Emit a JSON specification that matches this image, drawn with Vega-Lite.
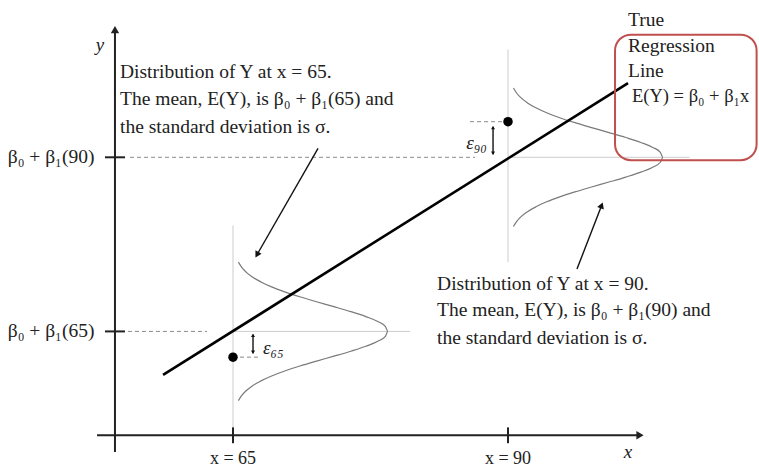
{
  "$schema": "https://vega.github.io/schema/vega-lite/v6.json",
  "width": 759,
  "height": 468,
  "padding": 0,
  "autosize": {"type": "fit", "contains": "padding"},
  "background": "white",
  "config": {"view": {"stroke": null}},
  "datasets": {
    "light": [
      {"x": 65, "y": 21.2, "x2": 65, "y2": 0},
      {"x": 90, "y": 39, "x2": 90, "y2": 17.5},
      {"x": 65, "y": 10.5, "x2": 81.1, "y2": 10.5},
      {"x": 90, "y": 28.1, "x2": 106.5, "y2": 28.1}
    ],
    "dashed": [
      {"x": 55.64, "y": 28.1, "x2": 87.0, "y2": 28.1},
      {"x": 55.45, "y": 10.5, "x2": 62.64, "y2": 10.5},
      {"x": 65, "y": 7.9, "x2": 67.27, "y2": 7.9},
      {"x": 86.55, "y": 31.7, "x2": 90, "y2": 31.7}
    ],
    "axes": [
      {"x": 54.27, "y": -1.7, "x2": 54.27, "y2": 41.0},
      {"x": 52.64, "y": 0, "x2": 102.0, "y2": 0},
      {"x": 65, "y": -0.8, "x2": 65, "y2": 0.8},
      {"x": 90, "y": -0.8, "x2": 90, "y2": 0.8},
      {"x": 53.36, "y": 28.1, "x2": 55.18, "y2": 28.1},
      {"x": 53.36, "y": 10.5, "x2": 55.18, "y2": 10.5}
    ],
    "regline": [{"x": 58.64, "y": 6.1, "x2": 100.91, "y2": 35.6}],
    "thin": [
      {"x": 72.73, "y": 29.0, "x2": 67.18, "y2": 18.25},
      {"x": 96.27, "y": 16.8, "x2": 98.51, "y2": 23.23},
      {"x": 66.82, "y": 10.2, "x2": 66.82, "y2": 8.3},
      {"x": 88.64, "y": 31.2, "x2": 88.64, "y2": 28.4}
    ],
    "headUpBig": [{"x": 54.27, "y": 41.0}],
    "headRight": [{"x": 102.0, "y": 0}],
    "headUpSmall": [{"x": 66.82, "y": 10.1}, {"x": 88.64, "y": 31.1}],
    "headDownSmall": [{"x": 66.82, "y": 8.4}, {"x": 88.64, "y": 28.5}],
    "head1": [{"x": 67.18, "y": 18.25}],
    "head2": [{"x": 98.51, "y": 23.23}],
    "points": [{"x": 65, "y": 7.9}, {"x": 90, "y": 31.7}],
    "curves": [
      {"curve": "A", "i": 0, "x": 65.49, "y": 3.5},
      {"curve": "A", "i": 1, "x": 65.78, "y": 4.0},
      {"curve": "A", "i": 2, "x": 66.19, "y": 4.5},
      {"curve": "A", "i": 3, "x": 66.77, "y": 5.0},
      {"curve": "A", "i": 4, "x": 67.54, "y": 5.5},
      {"curve": "A", "i": 5, "x": 68.51, "y": 6.0},
      {"curve": "A", "i": 6, "x": 69.70, "y": 6.5},
      {"curve": "A", "i": 7, "x": 71.08, "y": 7.0},
      {"curve": "A", "i": 8, "x": 72.60, "y": 7.5},
      {"curve": "A", "i": 9, "x": 74.18, "y": 8.0},
      {"curve": "A", "i": 10, "x": 75.71, "y": 8.5},
      {"curve": "A", "i": 11, "x": 77.08, "y": 9.0},
      {"curve": "A", "i": 12, "x": 78.16, "y": 9.5},
      {"curve": "A", "i": 13, "x": 78.85, "y": 10.0},
      {"curve": "A", "i": 14, "x": 79.09, "y": 10.5},
      {"curve": "A", "i": 15, "x": 78.85, "y": 11.0},
      {"curve": "A", "i": 16, "x": 78.16, "y": 11.5},
      {"curve": "A", "i": 17, "x": 77.08, "y": 12.0},
      {"curve": "A", "i": 18, "x": 75.71, "y": 12.5},
      {"curve": "A", "i": 19, "x": 74.18, "y": 13.0},
      {"curve": "A", "i": 20, "x": 72.60, "y": 13.5},
      {"curve": "A", "i": 21, "x": 71.08, "y": 14.0},
      {"curve": "A", "i": 22, "x": 69.70, "y": 14.5},
      {"curve": "A", "i": 23, "x": 68.51, "y": 15.0},
      {"curve": "A", "i": 24, "x": 67.54, "y": 15.5},
      {"curve": "A", "i": 25, "x": 66.77, "y": 16.0},
      {"curve": "A", "i": 26, "x": 66.19, "y": 16.5},
      {"curve": "A", "i": 27, "x": 65.78, "y": 17.0},
      {"curve": "A", "i": 28, "x": 65.49, "y": 17.5},
      {"curve": "B", "i": 0, "x": 90.49, "y": 21.1},
      {"curve": "B", "i": 1, "x": 90.78, "y": 21.6},
      {"curve": "B", "i": 2, "x": 91.19, "y": 22.1},
      {"curve": "B", "i": 3, "x": 91.77, "y": 22.6},
      {"curve": "B", "i": 4, "x": 92.54, "y": 23.1},
      {"curve": "B", "i": 5, "x": 93.51, "y": 23.6},
      {"curve": "B", "i": 6, "x": 94.70, "y": 24.1},
      {"curve": "B", "i": 7, "x": 96.08, "y": 24.6},
      {"curve": "B", "i": 8, "x": 97.60, "y": 25.1},
      {"curve": "B", "i": 9, "x": 99.18, "y": 25.6},
      {"curve": "B", "i": 10, "x": 100.71, "y": 26.1},
      {"curve": "B", "i": 11, "x": 102.08, "y": 26.6},
      {"curve": "B", "i": 12, "x": 103.16, "y": 27.1},
      {"curve": "B", "i": 13, "x": 103.85, "y": 27.6},
      {"curve": "B", "i": 14, "x": 104.09, "y": 28.1},
      {"curve": "B", "i": 15, "x": 103.85, "y": 28.6},
      {"curve": "B", "i": 16, "x": 103.16, "y": 29.1},
      {"curve": "B", "i": 17, "x": 102.08, "y": 29.6},
      {"curve": "B", "i": 18, "x": 100.71, "y": 30.1},
      {"curve": "B", "i": 19, "x": 99.18, "y": 30.6},
      {"curve": "B", "i": 20, "x": 97.60, "y": 31.1},
      {"curve": "B", "i": 21, "x": 96.08, "y": 31.6},
      {"curve": "B", "i": 22, "x": 94.70, "y": 32.1},
      {"curve": "B", "i": 23, "x": 93.51, "y": 32.6},
      {"curve": "B", "i": 24, "x": 92.54, "y": 33.1},
      {"curve": "B", "i": 25, "x": 91.77, "y": 33.6},
      {"curve": "B", "i": 26, "x": 91.19, "y": 34.1},
      {"curve": "B", "i": 27, "x": 90.78, "y": 34.6},
      {"curve": "B", "i": 28, "x": 90.49, "y": 35.1}
    ],
    "text17": [
      {"x": 54.73, "y": 36.7, "t": "Distribution of Y at x = 65."},
      {"x": 54.73, "y": 34.0, "t": "The mean, E(Y), is β₀ + β₁(65) and"},
      {"x": 54.73, "y": 31.2, "t": "the standard deviation is σ."},
      {"x": 83.55, "y": 15.3, "t": "Distribution of Y at x = 90."},
      {"x": 83.55, "y": 12.7, "t": "The mean, E(Y), is β₀ + β₁(90) and"},
      {"x": 83.55, "y": 9.8, "t": "the standard deviation is σ."},
      {"x": 100.91, "y": 42.0, "t": "True"},
      {"x": 100.91, "y": 39.4, "t": "Regression"},
      {"x": 100.91, "y": 36.8, "t": "Line"}
    ],
    "formula": [
      {"x": 101.27, "y": 34.3, "t": "E(Y) = β₀ + β₁x"}
    ],
    "ticklabels": [
      {"x": 52.4, "y": 28.1, "t": "β₀ + β₁(90)"},
      {"x": 52.4, "y": 10.5, "t": "β₀ + β₁(65)"}
    ],
    "xlabels": [
      {"x": 65, "y": -2.4, "t": "x = 65"},
      {"x": 90, "y": -2.4, "t": "x = 90"}
    ],
    "italic": [
      {"x": 100.91, "y": -1.7, "t": "x"},
      {"x": 52.9, "y": 39.5, "t": "y"}
    ],
    "eps": [
      {"x": 67.73, "y": 8.8, "t": "ε₆₅"},
      {"x": 86.2, "y": 29.5, "t": "ε₉₀"}
    ],
    "box": [{"x": 99.73, "y": 40.5, "x2": 112.6, "y2": 27.8}]
  },
  "encoding": {
    "x": {"field": "x", "type": "quantitative", "scale": {"domain": [43.818, 112.818], "nice": false, "zero": false}, "axis": null},
    "y": {"field": "y", "type": "quantitative", "scale": {"domain": [-2.8, 44], "nice": false, "zero": false}, "axis": null}
  },
  "layer": [
    {"data": {"name": "light"}, "mark": {"type": "rule", "color": "#cccccc", "strokeWidth": 1}, "encoding": {"x2": {"field": "x2"}, "y2": {"field": "y2"}}},
    {"data": {"name": "dashed"}, "mark": {"type": "rule", "color": "#8a8a8a", "strokeWidth": 1, "strokeDash": [4, 3]}, "encoding": {"x2": {"field": "x2"}, "y2": {"field": "y2"}}},
    {"data": {"name": "curves"}, "mark": {"type": "line", "color": "#7a7a7a", "strokeWidth": 1.2, "interpolate": "monotone"}, "encoding": {"detail": {"field": "curve"}, "order": {"field": "i", "type": "quantitative"}}},
    {"data": {"name": "axes"}, "mark": {"type": "rule", "color": "#222222", "strokeWidth": 2}, "encoding": {"x2": {"field": "x2"}, "y2": {"field": "y2"}}},
    {"data": {"name": "regline"}, "mark": {"type": "rule", "color": "#000000", "strokeWidth": 2.6}, "encoding": {"x2": {"field": "x2"}, "y2": {"field": "y2"}}},
    {"data": {"name": "thin"}, "mark": {"type": "rule", "color": "#111111", "strokeWidth": 1.4}, "encoding": {"x2": {"field": "x2"}, "y2": {"field": "y2"}}},
    {"data": {"name": "headUpBig"}, "mark": {"type": "point", "shape": "triangle-up", "filled": true, "size": 70, "color": "#222222", "opacity": 1}},
    {"data": {"name": "headRight"}, "mark": {"type": "point", "shape": "triangle-right", "filled": true, "size": 70, "color": "#222222", "opacity": 1}},
    {"data": {"name": "headUpSmall"}, "mark": {"type": "point", "shape": "triangle-up", "filled": true, "size": 16, "color": "#111111", "opacity": 1}},
    {"data": {"name": "headDownSmall"}, "mark": {"type": "point", "shape": "triangle-down", "filled": true, "size": 16, "color": "#111111", "opacity": 1}},
    {"data": {"name": "head1"}, "mark": {"type": "point", "shape": "triangle-up", "filled": true, "size": 50, "angle": 209.6, "color": "#111111", "opacity": 1}},
    {"data": {"name": "head2"}, "mark": {"type": "point", "shape": "triangle-up", "filled": true, "size": 50, "angle": 20.9, "color": "#111111", "opacity": 1}},
    {"data": {"name": "points"}, "mark": {"type": "point", "shape": "circle", "filled": true, "size": 90, "color": "#000000", "opacity": 1}},
    {"data": {"name": "text17"}, "mark": {"type": "text", "align": "left", "baseline": "middle", "font": "Liberation Serif", "fontSize": 19.5, "color": "#222222"}, "encoding": {"text": {"field": "t"}}},
    {"data": {"name": "formula"}, "mark": {"type": "text", "align": "left", "baseline": "middle", "font": "Liberation Serif", "fontSize": 18.5, "color": "#222222"}, "encoding": {"text": {"field": "t"}}},
    {"data": {"name": "ticklabels"}, "mark": {"type": "text", "align": "right", "baseline": "middle", "font": "Liberation Serif", "fontSize": 19.5, "color": "#222222"}, "encoding": {"text": {"field": "t"}}},
    {"data": {"name": "xlabels"}, "mark": {"type": "text", "align": "center", "baseline": "middle", "font": "Liberation Serif", "fontSize": 18, "color": "#222222"}, "encoding": {"text": {"field": "t"}}},
    {"data": {"name": "italic"}, "mark": {"type": "text", "align": "center", "baseline": "middle", "font": "Liberation Serif", "fontStyle": "italic", "fontSize": 19, "color": "#222222"}, "encoding": {"text": {"field": "t"}}},
    {"data": {"name": "eps"}, "mark": {"type": "text", "align": "left", "baseline": "middle", "font": "Liberation Serif", "fontStyle": "italic", "fontSize": 19, "color": "#222222"}, "encoding": {"text": {"field": "t"}}},
    {"data": {"name": "box"}, "mark": {"type": "rect", "fillOpacity": 0, "fill": "white", "stroke": "#c0504d", "strokeWidth": 2, "cornerRadius": 16}, "encoding": {"x2": {"field": "x2"}, "y2": {"field": "y2"}}}
  ]
}
